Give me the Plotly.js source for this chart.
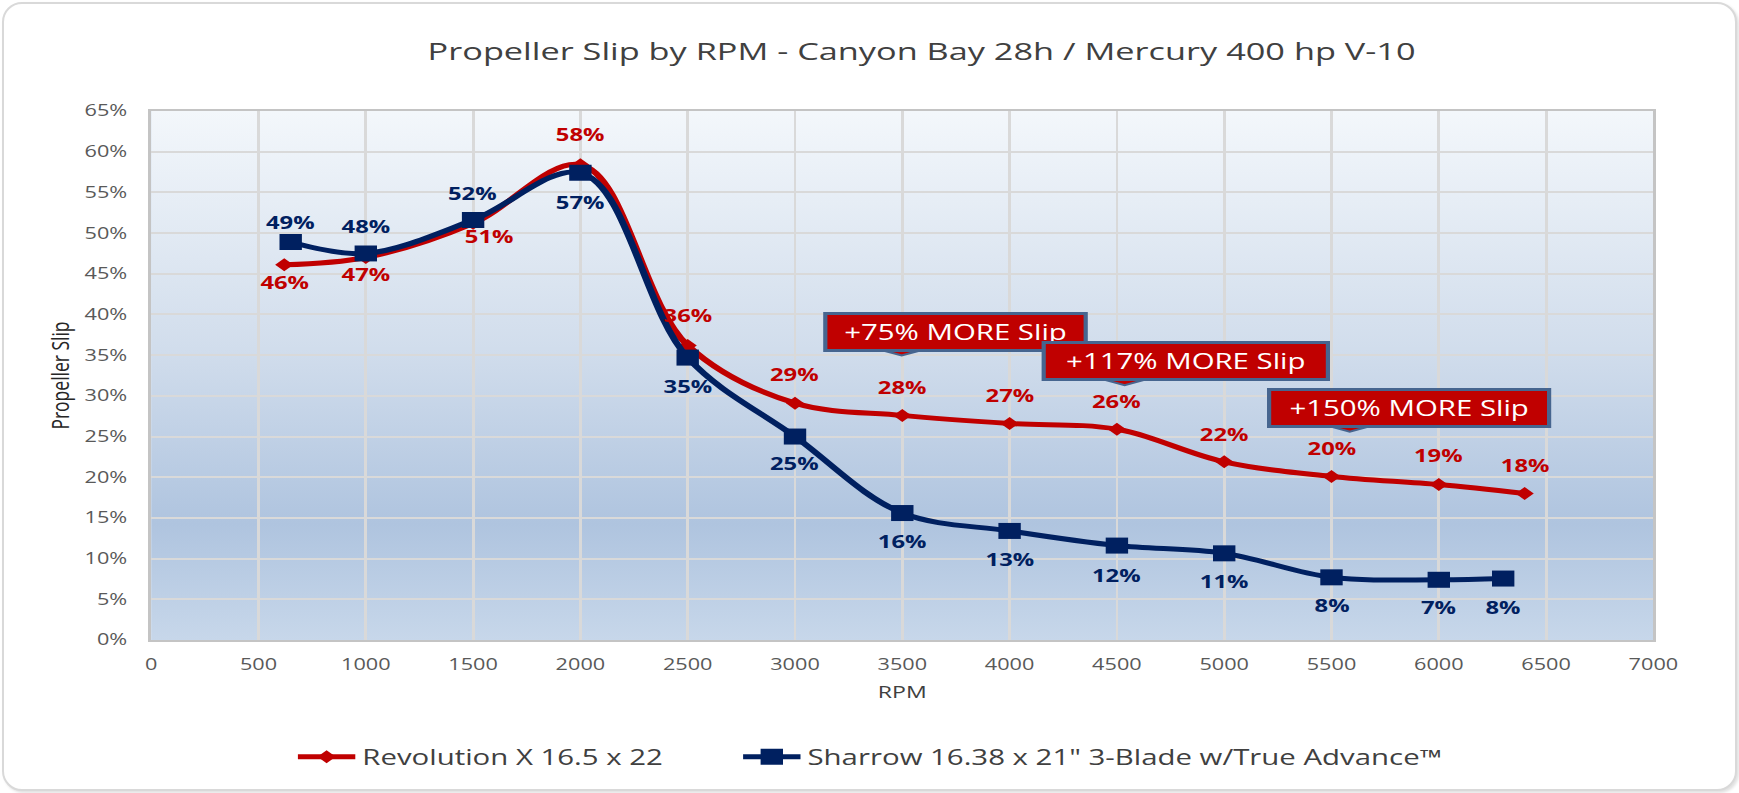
<!DOCTYPE html>
<html>
<head>
<meta charset="utf-8">
<script src="https://cdn.plot.ly/plotly-3.0.1.min.js"></script>
<style>
body { margin: 0; background: #fff; overflow: hidden; }
#frame { position: absolute; left: 2px; top: 2px; width: 1731px; height: 785px; border: 2px solid #d9d9d9; border-radius: 20px; box-shadow: 2px 2px 3px rgba(0,0,0,0.12); background: #fff; }
/* the source chart is stretched sideways, so draw narrower and stretch it */
#chart { position: absolute; left: 0; top: 0; width: 1242px; height: 793px; transform: scaleX(1.4); transform-origin: 0 0; }
</style>
</head>
<body>
<div id="frame"></div>
<div id="chart"></div>
<script>
var rev_name = 'Revolution X 16.5 x 22'
var rev_rpm = [620, 1000, 1500, 2000, 2500, 3000, 3500, 4000, 4500, 5000, 5500, 6000, 6400]
var rev_slip = [46.1, 47.0, 51.2, 58.4, 36.2, 29.1, 27.6, 26.6, 25.9, 21.9, 20.1, 19.1, 18.0]

var sharrow_name = 'Sharrow 16.38 x 21" 3-Blade w/True Advance™'
var sharrow_rpm = [650, 1000, 1500, 2000, 2500, 3000, 3500, 4000, 4500, 5000, 5500, 6000, 6300]
var sharrow_slip = [48.9, 47.5, 51.6, 57.4, 34.7, 25.0, 15.6, 13.4, 11.6, 10.65, 7.7, 7.4, 7.55]

var callout_text = ['+75% MORE Slip', '+117% MORE Slip', '+150% MORE Slip']

// where each data label sits relative to its point (px, up is positive)
var rev_label_dy = [-18, -17, -13, 30, 30, 29, 28, 28, 28, 27, 28, 29, 28]
var rev_label_dx = [0, 0, 12, 0, 0, 0, 0, 0, 0, 0, 0, 0, 0]
var sharrow_label_dy = [20, 27, 27, -30, -29, -27, -28, -29, -30, -28, -28, -28, -29]

var red = '#C00000', navy = '#002060'

function data_labels(xs, ys, dy, dx, color) {
    var out = []
    for (i = 0; i < xs.length; i++) {
        out.push({
            x: xs[i], y: ys[i], xref: 'x', yref: 'y',
            text: '<b>' + Math.round(ys[i]) + '%</b>',
            showarrow: false,
            yshift: dy[i], xshift: dx ? dx[i] : 0,
            font: {family: 'Open Sans', size: 17, color: color}
        })
    }
    return out
}

// callout boxes: center in data units, box width, pointer offset from center
var callout_pos = [[3745, 37.9, 177, -38], [4823, 34.26, 194, -44], [5859, 28.55, 191, -42]]
var callouts = [], pointers = []
for (i = 0; i < callout_text.length; i++) {
    var p = callout_pos[i]
    pointers.push({
        type: 'path', xref: 'x', yref: 'y', xsizemode: 'pixel', ysizemode: 'pixel',
        xanchor: p[0], yanchor: p[1],
        path: 'M ' + (p[3] - 24) + ' -15 L ' + p[3] + ' -24 L ' + (p[3] + 24) + ' -15 Z',
        fillcolor: red, line: {color: '#46658F', width: 2}, layer: 'above'
    })
    callouts.push({
        x: p[0], y: p[1], xref: 'x', yref: 'y', text: callout_text[i], showarrow: false,
        width: p[2], height: 28, borderpad: 3, borderwidth: 3,
        bgcolor: red, bordercolor: '#46658F',
        font: {family: 'Open Sans', size: 21, color: '#ffffff'}
    })
}

var grad = 'data:image/svg+xml;utf8,' + encodeURIComponent(
    '<svg xmlns="http://www.w3.org/2000/svg" width="10" height="100" preserveAspectRatio="none">' +
    '<defs><linearGradient id="g" x1="0" y1="0" x2="0" y2="1">' +
    '<stop offset="0" stop-color="#F3F7FB"/><stop offset="0.45" stop-color="#D1DDEC"/>' +
    '<stop offset="0.78" stop-color="#AFC4DF"/><stop offset="1" stop-color="#C7D7EA"/>' +
    '</linearGradient></defs><rect width="10" height="100" fill="url(#g)"/></svg>')

var trace1 = {
    x: rev_rpm, y: rev_slip, name: rev_name,
    type: 'scatter', mode: 'lines+markers',
    line: {color: red, width: 5, shape: 'spline', smoothing: 1},
    marker: {symbol: 'diamond', size: 10, color: red},
    legendwidth: 262
}
var trace2 = {
    x: sharrow_rpm, y: sharrow_slip, name: sharrow_name,
    type: 'scatter', mode: 'lines+markers',
    line: {color: navy, width: 5, shape: 'spline', smoothing: 1},
    marker: {symbol: 'square', size: 16, color: navy}
}

var axis_font = {family: 'Open Sans', size: 15.5, color: '#595959'}
var layout = {
    width: 1242, height: 793,
    margin: {l: 108, r: 61, t: 111, b: 153, pad: 0},
    paper_bgcolor: 'rgba(0,0,0,0)',
    plot_bgcolor: '#D0DCEC',
    font: {family: 'Open Sans', color: '#404040'},
    title: {
        text: 'Propeller Slip by RPM - Canyon Bay 28h / Mercury 400 hp V-10',
        font: {family: 'Open Sans', size: 24.5, color: '#404040'},
        xref: 'container', x: 0.530, xanchor: 'center',
        yref: 'container', y: 0.935, yanchor: 'middle'
    },
    xaxis: {
        range: [0, 7000], tick0: 0, dtick: 500,
        showgrid: true, gridcolor: '#D9D9D9', gridwidth: 2,
        zeroline: false, showline: true, mirror: true, linecolor: '#C4C4C4', linewidth: 2,
        tickfont: axis_font, ticklabelstandoff: 9,
        title: {text: 'RPM', font: {family: 'Open Sans', size: 16.5, color: '#404040'}, standoff: 13}
    },
    yaxis: {
        range: [0, 65], tick0: 0, dtick: 5, ticksuffix: '%',
        showgrid: true, gridcolor: '#D9D9D9', gridwidth: 2,
        zeroline: false, showline: true, mirror: true, linecolor: '#C4C4C4', linewidth: 2,
        tickfont: axis_font, ticklabelstandoff: 12,
        title: {text: 'Propeller Slip', font: {family: 'Open Sans', size: 17.5, color: '#262626'}, standoff: 6}
    },
    legend: {
        orientation: 'h', xref: 'container', x: 0.1673, xanchor: 'left',
        yref: 'container', y: 0.0454, yanchor: 'middle',
        itemwidth: 41,
        font: {family: 'Open Sans', size: 21, color: '#404040'},
        bgcolor: 'rgba(0,0,0,0)'
    },
    images: [{source: grad, xref: 'paper', yref: 'paper', x: 0, y: 1, sizex: 1, sizey: 1,
              sizing: 'stretch', layer: 'below'}],
    shapes: pointers,
    annotations: data_labels(rev_rpm, rev_slip, rev_label_dy, rev_label_dx, red)
        .concat(data_labels(sharrow_rpm, sharrow_slip, sharrow_label_dy, null, navy))
        .concat(callouts),
    showlegend: true
}

Plotly.newPlot('chart', [trace1, trace2], layout, {displayModeBar: false, staticPlot: true})
</script>
</body>
</html>
